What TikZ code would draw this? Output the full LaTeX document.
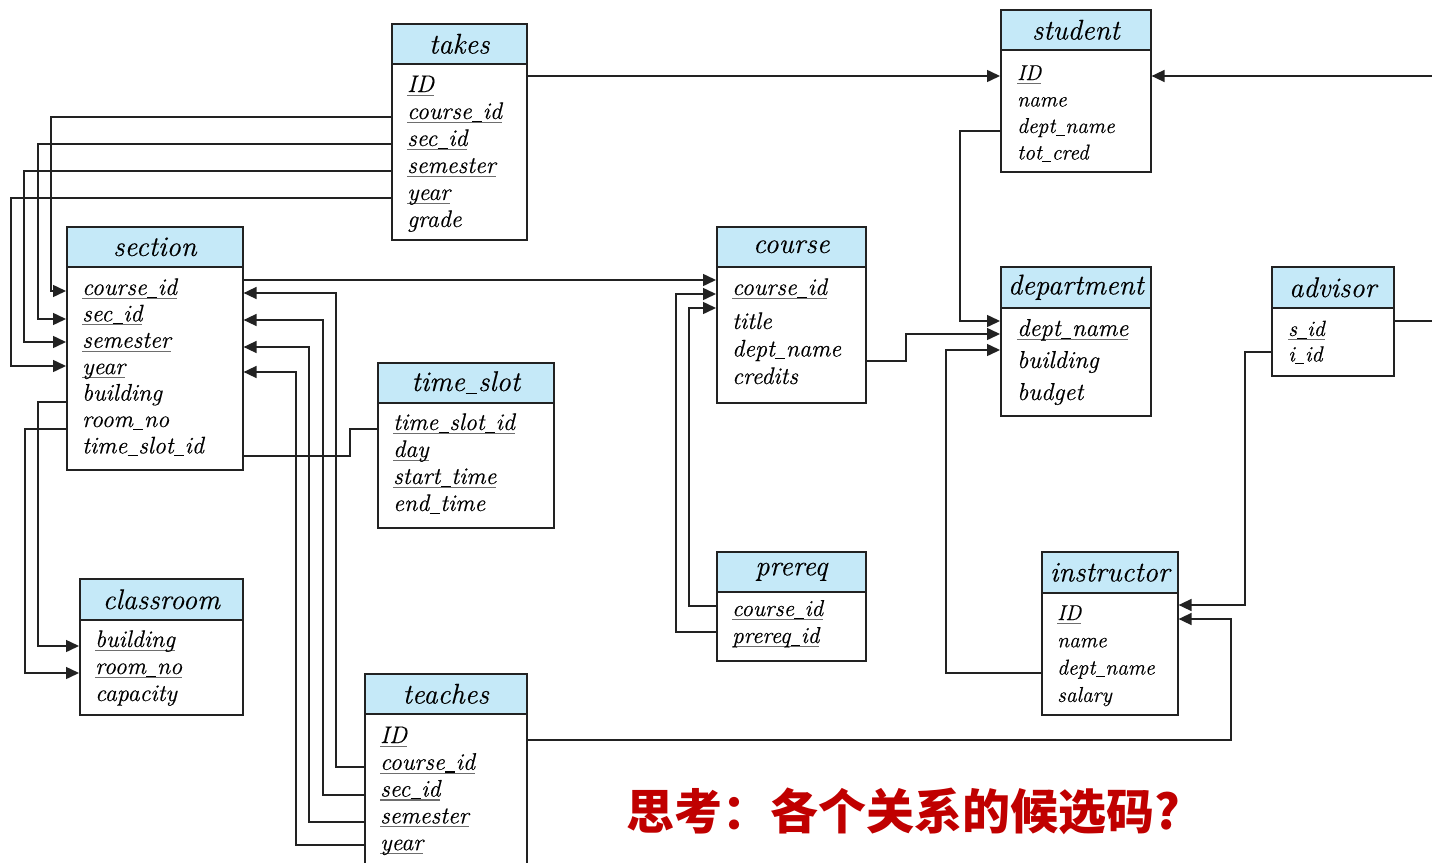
\documentclass[tikz,border=0pt]{standalone}
\usepackage{fontspec}
\usetikzlibrary{arrows.meta}
\newfontfamily\cjk{Noto Sans CJK SC}
\newfontfamily\itf{Latin Modern Roman}[FakeBold=0.35]
\definecolor{hdrblue}{RGB}{197,233,248}
\definecolor{linec}{RGB}{34,34,34}
\definecolor{ulgray}{RGB}{110,110,110}
\definecolor{redc}{RGB}{192,0,0}
\newsavebox\ulbox
\newcommand\ulk[1]{\sbox\ulbox{#1}\rlap{\textcolor{ulgray}{\rule[-0.17em]{\wd\ulbox}{0.05em}}}\usebox\ulbox}
\newcommand\us{\kern0.02em\rule[-0.12em]{0.42em}{0.05em}\kern0.02em}
\tikzset{
  hdr/.style={draw=linec, line width=1.6pt, fill=hdrblue, anchor=north west, inner sep=0pt,
    font=\itf\itshape\fontsize{28.5}{28.5}\selectfont},
  bodyb/.style={draw=linec, line width=1.6pt, fill=white, anchor=north west, inner sep=0pt},
  attr/.style={anchor=base west, inner sep=0pt},
  conn/.style={draw=linec, line width=1.5pt},
  arr/.style={conn, -{Triangle[length=13pt,width=12pt]}},
}
% name, L, R, T, H, B, title
\newcommand\reltab[7]{%
  \node[hdr, minimum width={#3-#2}, minimum height={#5-#4}] (#1H) at (#2,#4) {#7};
  \node[bodyb, minimum width={#3-#2}, minimum height={#6-#5}] (#1B) at (#2,#5) {};
}
% name, x, y0, dy, size, list
\newcommand\attrs[6]{%
  \foreach \t [count=\i] in {#6} {
    \node[attr, font=\itf\itshape\fontsize{#5}{#5}\selectfont] (#1a\i) at ({#2},{#3+(\i-1)*#4}) {\t};
  }
}
\begin{document}
\begin{tikzpicture}[x=1pt,y=-1pt]
\useasboundingbox (0,0) rectangle (1432,862);
\clip (0,0) rectangle (1432,862);
\fill[white] (0,0) rectangle (1432,862);

% tables
\reltab{takes}{391}{526}{23}{63}{239}{takes}
\attrs{takes}{407}{92}{27}{24}{\ulk{ID},\ulk{course\us id},\ulk{sec\us id},\ulk{semester},\ulk{year},grade}

\reltab{student}{1000}{1150}{9}{49}{171}{student}
\attrs{student}{1017}{80}{26.5}{21.5}{\ulk{ID},name,dept\us name,tot\us cred}

\reltab{section}{66}{242}{226}{266}{469}{section}
\attrs{section}{82}{295}{26.4}{24}{\ulk{course\us id},\ulk{sec\us id},\ulk{semester},\ulk{year},building,room\us no,time\us slot\us id}

\reltab{course}{716}{865}{226}{266}{402}{course}
\node[attr, font=\itf\itshape\fontsize{24}{24}\selectfont] (coursea1) at (732,295) {\ulk{course\us id}};
\attrs{courseb}{732}{329}{27.5}{24}{title,dept\us name,credits}

\reltab{dept}{1000}{1150}{266}{307}{415}{department}
\attrs{dept}{1017}{336}{32}{24.5}{\ulk{dept\us name},building,budget}

\reltab{advisor}{1271}{1393}{266}{307}{375}{advisor}
\attrs{advisor}{1288}{336}{25.5}{22}{\ulk{s\us id},i\us id}

\reltab{ts}{377}{553}{362}{402}{527}{time\us slot}
\attrs{ts}{393}{430}{27}{24}{\ulk{time\us slot\us id},\ulk{day},\ulk{start\us time},end\us time}

\reltab{class}{79}{242}{578}{619}{714}{classroom}
\attrs{class}{95}{647}{27}{24}{\ulk{building},\ulk{room\us no},capacity}

\reltab{prereq}{716}{865}{551}{591}{660}{prereq}
\attrs{prereq}{732}{616}{27}{23}{\ulk{course\us id},\ulk{prereq\us id}}

\reltab{instr}{1041}{1177}{551}{592}{714}{instructor}
\attrs{instr}{1057}{620}{27.3}{21.5}{\ulk{ID},name,dept\us name,salary}

\reltab{teaches}{364}{526}{673}{713}{880}{teaches}
\attrs{teaches}{380}{743}{26.8}{24}{\ulk{ID},\ulk{course\us id},\ulk{sec\us id},\ulk{semester},\ulk{year}}

% off-page ends
\coordinate (offA) at (1440,76);
\coordinate (offB) at (1440,321);

% connectors
\draw[arr] (takesB.east |- 0,76) -- (studentB.west |- 0,76);
\draw[arr] (offA) -- (studentB.east |- 0,76);
\draw[conn] (advisorB.east |- 0,321) -- (offB);
\draw[arr] (studentB.west |- 0,131) -- (960,131) -- (960,321) -- (deptB.west |- 0,321);
\draw[arr] (courseB.east |- 0,361) -- (906,361) -- (906,334) -- (deptB.west |- 0,334);
\draw[arr] (instrB.west |- 0,673) -- (946,673) -- (946,350) -- (deptB.west |- 0,350);
\draw[arr] (advisorB.west |- 0,352) -- (1245,352) -- (1245,605) -- (instrB.east |- 0,605);
\draw[arr] (teachesB.east |- 0,740) -- (1231,740) -- (1231,619) -- (instrB.east |- 0,619);
\draw[arr] (sectionB.east |- 0,280) -- (courseB.west |- 0,280);
\draw[arr] (prereqB.west |- 0,606) -- (689,606) -- (689,308) -- (courseB.west |- 0,308);
\draw[arr] (prereqB.west |- 0,632) -- (676,632) -- (676,294) -- (courseB.west |- 0,294);

\draw[arr] (takesB.west |- 0,117) -- (51,117) -- (51,291) -- (sectionB.west |- 0,291);
\draw[arr] (takesB.west |- 0,144) -- (38,144) -- (38,319) -- (sectionB.west |- 0,319);
\draw[arr] (takesB.west |- 0,171) -- (24,171) -- (24,342) -- (sectionB.west |- 0,342);
\draw[arr] (takesB.west |- 0,198) -- (11,198) -- (11,366) -- (sectionB.west |- 0,366);

\draw[arr] (teachesB.west |- 0,767) -- (336,767) -- (336,293) -- (sectionB.east |- 0,293);
\draw[arr] (teachesB.west |- 0,795) -- (323,795) -- (323,320) -- (sectionB.east |- 0,320);
\draw[arr] (teachesB.west |- 0,822) -- (309,822) -- (309,347) -- (sectionB.east |- 0,347);
\draw[arr] (teachesB.west |- 0,845) -- (296,845) -- (296,372) -- (sectionB.east |- 0,372);

\draw[conn] (sectionB.east |- 0,456) -- (350,456) -- (350,429) -- (tsB.west |- 0,429);
\draw[arr] (sectionB.west |- 0,402) -- (38,402) -- (38,646) -- (classB.west |- 0,646);
\draw[arr] (sectionB.west |- 0,429) -- (25,429) -- (25,673) -- (classB.west |- 0,673);

% question
\node[font=\cjk\bfseries\fontsize{48}{48}\selectfont, text=redc] (question) at (903,811) {思考：各个关系的候选码?};
\end{tikzpicture}
\end{document}
